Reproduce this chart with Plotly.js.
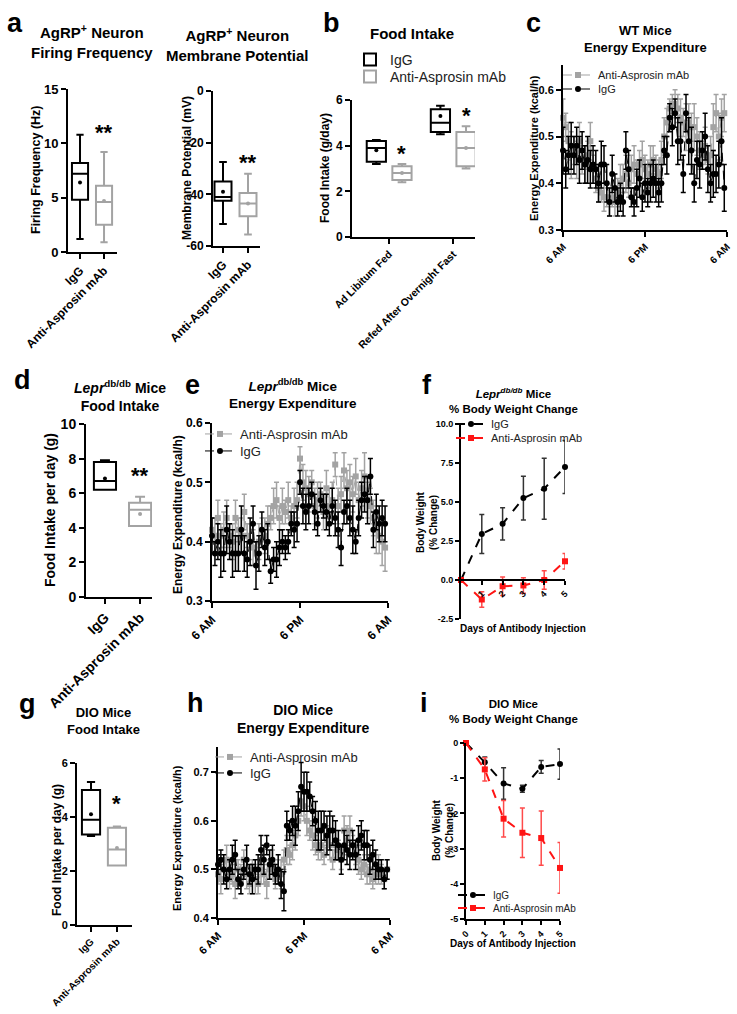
<!DOCTYPE html>
<html><head><meta charset="utf-8">
<script src="https://cdn.plot.ly/plotly-3.0.1.min.js"></script>
<style>html,body{margin:0;padding:0;background:#fff}</style>
</head><body><div id="chart" style="width:737px;height:1014px"></div>
<script>
// ---------------- DATA ----------------
const groups = ['IgG', 'Anti-Asprosin mAb'];
// a1 firing frequency (Hz)
const a1_lower = [1.2, 0.9], a1_q1 = [4.8, 2.5], a1_med = [7.2, 4.6], a1_q3 = [8.2, 6.1], a1_upper = [10.8, 9.2], a1_mean = [6.4, 4.7];
const a1_ticks = [0, 5, 10, 15];
// a2 membrane potential (mV)
const a2_lower = [-51.5, -55.5], a2_q1 = [-42.5, -48.5], a2_med = [-41, -43.5], a2_q3 = [-35, -39.5], a2_upper = [-27.5, -32], a2_mean = [-39, -43.5];
const a2_tickvals = [0, -20, -40, -60], a2_ticktext = ['0', '-20', '-40', '-60'];
// b food intake (g/day)
const b_conditions = ['Ad Libitum Fed', 'Refed After Overnight Fast'];
const b_igg_lower = [3.2, 4.5], b_igg_q1 = [3.3, 4.6], b_igg_med = [3.9, 5.0], b_igg_q3 = [4.2, 5.6], b_igg_upper = [4.25, 5.75], b_igg_mean = [3.8, 5.3];
const b_anti_lower = [2.4, 3.0], b_anti_q1 = [2.5, 3.1], b_anti_med = [2.8, 3.9], b_anti_q3 = [3.1, 4.6], b_anti_upper = [3.2, 4.85], b_anti_mean = [2.8, 3.9];
const b_ticks = [0, 2, 4, 6];
// time axis for energy expenditure
const timeHours = [0,0.4,0.8,1.2,1.6,2,2.4,2.8,3.2,3.6,4,4.4,4.8,5.2,5.6,6,6.4,6.8,7.2,7.6,8,8.4,8.8,9.2,9.6,10,10.4,10.8,11.2,11.6,12,12.4,12.8,13.2,13.6,14,14.4,14.8,15.2,15.6,16,16.4,16.8,17.2,17.6,18,18.4,18.8,19.2,19.6,20,20.4,20.8,21.2,21.6,22,22.4,22.8,23.2,23.6];
const timeTickVals = [0, 12, 24], timeTickText = ['6 AM', '6 PM', '6 AM'];
// c WT energy expenditure
const c_anti = [0.54,0.52,0.49,0.46,0.47,0.45,0.49,0.45,0.44,0.46,0.49,0.43,0.41,0.39,0.38,0.37,0.37,0.36,0.37,0.36,0.38,0.40,0.41,0.42,0.40,0.43,0.44,0.42,0.44,0.45,0.43,0.42,0.44,0.45,0.43,0.42,0.45,0.50,0.53,0.56,0.57,0.57,0.56,0.54,0.53,0.52,0.53,0.52,0.52,0.50,0.47,0.46,0.48,0.45,0.46,0.52,0.55,0.50,0.54,0.55];
const c_anti_err = [0.04,0.03,0.04,0.05,0.03,0.04,0.04,0.03,0.04,0.03,0.04,0.03,0.03,0.03,0.02,0.03,0.02,0.03,0.02,0.03,0.03,0.04,0.03,0.04,0.03,0.03,0.04,0.03,0.03,0.04,0.03,0.03,0.04,0.03,0.03,0.03,0.04,0.04,0.03,0.02,0.02,0.03,0.03,0.04,0.03,0.05,0.04,0.03,0.05,0.04,0.04,0.03,0.04,0.03,0.04,0.05,0.04,0.05,0.04,0.04];
const c_igg = [0.47,0.43,0.46,0.48,0.46,0.48,0.45,0.47,0.44,0.45,0.43,0.44,0.43,0.40,0.44,0.44,0.40,0.36,0.42,0.39,0.36,0.37,0.36,0.47,0.43,0.37,0.36,0.39,0.41,0.37,0.40,0.38,0.40,0.41,0.40,0.38,0.40,0.47,0.46,0.54,0.52,0.55,0.49,0.49,0.42,0.55,0.49,0.47,0.40,0.45,0.44,0.47,0.50,0.43,0.40,0.42,0.42,0.44,0.49,0.39];
const c_igg_err = [0.05,0.04,0.04,0.05,0.04,0.04,0.05,0.04,0.04,0.05,0.04,0.04,0.04,0.04,0.05,0.04,0.04,0.03,0.04,0.03,0.03,0.03,0.03,0.04,0.04,0.02,0.03,0.04,0.04,0.03,0.04,0.03,0.04,0.04,0.04,0.03,0.04,0.03,0.04,0.03,0.04,0.03,0.05,0.04,0.04,0.04,0.05,0.05,0.04,0.04,0.05,0.04,0.05,0.05,0.04,0.05,0.04,0.05,0.05,0.05];
const c_ticks = [0.3, 0.4, 0.5, 0.6];
// d Lepr db/db food intake
const d_lower = [6.2, 4.1], d_q1 = [6.2, 4.1], d_med = [6.7, 5.05], d_q3 = [7.8, 5.45], d_upper = [7.9, 5.8], d_mean = [6.85, 4.8];
const d_ticks = [0, 2, 4, 6, 8, 10];
// e Lepr db/db energy expenditure
const e_anti = [0.42,0.41,0.44,0.41,0.42,0.44,0.41,0.40,0.44,0.42,0.41,0.45,0.41,0.40,0.39,0.38,0.40,0.42,0.41,0.43,0.44,0.46,0.47,0.44,0.46,0.45,0.47,0.44,0.46,0.47,0.54,0.50,0.49,0.48,0.50,0.46,0.47,0.48,0.45,0.49,0.46,0.47,0.53,0.46,0.48,0.52,0.49,0.50,0.48,0.51,0.47,0.49,0.51,0.47,0.46,0.44,0.42,0.41,0.40,0.39];
const e_anti_err = [0.02,0.03,0.03,0.02,0.03,0.03,0.02,0.03,0.03,0.02,0.03,0.03,0.02,0.03,0.03,0.02,0.03,0.02,0.03,0.03,0.02,0.03,0.03,0.02,0.03,0.02,0.03,0.02,0.03,0.03,0.02,0.03,0.03,0.03,0.02,0.03,0.03,0.02,0.03,0.03,0.03,0.03,0.02,0.03,0.03,0.03,0.03,0.03,0.03,0.03,0.03,0.03,0.04,0.03,0.03,0.03,0.04,0.03,0.04,0.04];
const e_igg = [0.41,0.38,0.40,0.38,0.38,0.42,0.40,0.38,0.38,0.38,0.42,0.38,0.37,0.40,0.43,0.36,0.38,0.42,0.39,0.40,0.35,0.37,0.37,0.39,0.40,0.39,0.40,0.43,0.42,0.43,0.50,0.46,0.45,0.46,0.48,0.45,0.43,0.47,0.46,0.45,0.43,0.46,0.44,0.42,0.39,0.45,0.46,0.44,0.42,0.40,0.44,0.47,0.48,0.47,0.51,0.42,0.45,0.43,0.44,0.43];
const e_igg_err = [0.03,0.02,0.03,0.04,0.03,0.04,0.03,0.04,0.03,0.03,0.04,0.03,0.03,0.04,0.03,0.04,0.03,0.03,0.03,0.03,0.02,0.02,0.03,0.03,0.02,0.02,0.02,0.02,0.03,0.03,0.02,0.03,0.03,0.03,0.02,0.03,0.02,0.02,0.02,0.03,0.02,0.03,0.03,0.03,0.03,0.02,0.03,0.03,0.04,0.02,0.03,0.03,0.03,0.04,0.03,0.03,0.03,0.03,0.03,0.03];
const e_ticks = [0.3, 0.4, 0.5, 0.6];
// f Lepr db/db body weight change
const days = [0, 1, 2, 3, 4, 5];
const f_igg = [0, 2.95, 3.6, 5.25, 5.85, 7.25], f_igg_err = [0, 1.25, 1.03, 1.4, 1.95, 1.7];
const f_anti = [0, -1.25, -0.4, -0.35, 0, 1.2], f_anti_err = [0, 0.5, 0.6, 0.5, 0.6, 0.5];
const f_tickvals = [10, 7.5, 5, 2.5, 0, -2.5], f_ticktext = ['10.0', '7.5', '5.0', '2.5', '0.0', '-2.5'];
// g DIO food intake
const g_lower = [3.3, 2.2], g_q1 = [3.35, 2.2], g_med = [3.9, 2.8], g_q3 = [5.0, 3.6], g_upper = [5.3, 3.65], g_mean = [4.1, 2.85];
const g_ticks = [0, 2, 4, 6];
// h DIO energy expenditure
const h_anti = [0.49,0.48,0.50,0.52,0.48,0.49,0.47,0.50,0.48,0.52,0.49,0.47,0.50,0.48,0.47,0.50,0.49,0.47,0.50,0.51,0.48,0.50,0.49,0.52,0.54,0.53,0.55,0.57,0.60,0.64,0.63,0.60,0.58,0.57,0.55,0.54,0.55,0.53,0.56,0.55,0.52,0.55,0.54,0.52,0.58,0.56,0.58,0.55,0.53,0.52,0.50,0.51,0.49,0.50,0.48,0.49,0.50,0.49,0.48,0.50];
const h_anti_err = [0.02,0.03,0.02,0.03,0.02,0.02,0.03,0.02,0.03,0.02,0.03,0.02,0.02,0.03,0.02,0.03,0.02,0.03,0.02,0.03,0.02,0.02,0.03,0.02,0.03,0.02,0.03,0.03,0.03,0.03,0.03,0.03,0.02,0.03,0.02,0.02,0.03,0.02,0.03,0.03,0.02,0.03,0.02,0.02,0.03,0.03,0.03,0.02,0.02,0.03,0.02,0.02,0.02,0.03,0.02,0.02,0.03,0.02,0.02,0.02];
const h_igg = [0.51,0.52,0.50,0.48,0.50,0.52,0.53,0.48,0.47,0.50,0.52,0.49,0.48,0.50,0.50,0.54,0.52,0.55,0.51,0.52,0.49,0.50,0.47,0.455,0.59,0.58,0.60,0.59,0.62,0.67,0.66,0.66,0.65,0.62,0.60,0.58,0.58,0.59,0.57,0.58,0.58,0.56,0.55,0.52,0.55,0.54,0.53,0.55,0.53,0.56,0.57,0.55,0.55,0.52,0.53,0.51,0.50,0.50,0.48,0.50];
const h_igg_err = [0.02,0.02,0.03,0.02,0.02,0.03,0.03,0.02,0.02,0.02,0.03,0.02,0.03,0.02,0.03,0.03,0.03,0.02,0.03,0.03,0.02,0.03,0.03,0.04,0.03,0.02,0.03,0.04,0.04,0.05,0.04,0.04,0.03,0.03,0.04,0.04,0.04,0.03,0.04,0.04,0.03,0.04,0.03,0.03,0.03,0.03,0.03,0.03,0.03,0.03,0.03,0.03,0.03,0.03,0.03,0.03,0.02,0.02,0.02,0.02];
const h_ticks = [0.4, 0.5, 0.6, 0.7];
// i DIO body weight change
const i_igg = [0, -0.55, -1.15, -1.3, -0.68, -0.6], i_igg_err = [0, 0.15, 0.45, 0.1, 0.18, 0.43];
const i_anti = [0, -0.75, -2.15, -2.55, -2.7, -3.55], i_anti_err = [0, 0.33, 0.52, 0.7, 0.77, 0.72];
const i_tickvals = [0, -1, -2, -3, -4, -5], i_ticktext = ['0', '-1', '-2', '-3', '-4', '-5'];

// ---------------- STYLE / HELPERS ----------------
const W = 737, H = 1014;
const px = x => x / W, py = y => 1 - y / H;
const FONT = 'Liberation Sans, Arial, Helvetica, sans-serif';
const BLACK = '#000000', GRAY = '#a3a3a3', RED = '#ff1414';
const tf = (s, w) => ({family: FONT, size: s, color: '#000', weight: w || 'bold'});

function axis(extra) {
  return Object.assign({showline: true, linecolor: '#000', linewidth: 2, ticks: 'outside', ticklen: 5, tickwidth: 2,
    tickcolor: '#000', showgrid: false, zeroline: false, fixedrange: true, automargin: false, tickfont: tf(12)}, extra);
}
function catAxis(dom, anchor, cats, range, angle, size) {
  return axis({domain: dom, anchor, type: 'category', categoryorder: 'array', categoryarray: cats, range, tickangle: angle, tickfont: tf(size)});
}
function hiddenCatAxis(dom, anchor, cats, range) {
  return {domain: dom, anchor, type: 'category', categoryorder: 'array', categoryarray: cats, range, visible: false,
    showline: false, showticklabels: false, ticks: '', showgrid: false, zeroline: false, fixedrange: true, automargin: false};
}
function boxTrace(name, x, lo, q1, med, q3, up, color, xa, ya, width, legend) {
  return {type: 'box', name, x, lowerfence: lo, q1, median: med, q3, upperfence: up, xaxis: xa, yaxis: ya,
    line: {color, width: 2}, fillcolor: 'rgba(255,255,255,0)', whiskerwidth: 0.45, width, boxpoints: false,
    showlegend: !!legend, legend: legend || 'legend', hoverinfo: 'skip'};
}
function meanTrace(x, y, color, xa, ya) {
  return {type: 'scatter', mode: 'markers', x, y, xaxis: xa, yaxis: ya, marker: {color, size: 4}, showlegend: false, hoverinfo: 'skip'};
}
function seriesTrace(name, x, y, err, color, symbol, size, xa, ya, legend, lw, errColor) {
  return {type: 'scatter', mode: 'lines+markers', name, x, y, xaxis: xa, yaxis: ya, cliponaxis: false,
    line: {color, width: lw, dash: 'dash'}, marker: {color, symbol, size},
    error_y: {type: 'data', array: err, visible: true, color: errColor || color, thickness: 1.5, width: 2.5},
    legend, showlegend: true, hoverinfo: 'skip'};
}
function leg(x, y, size) {
  return {x: px(x), y: py(y), xanchor: 'left', yanchor: 'middle', bgcolor: 'rgba(0,0,0,0)', borderwidth: 0,
    font: {family: FONT, size, color: '#222'}, itemwidth: 30, tracegroupgap: 0};
}
function ann(text, x, y, size, extra) {
  return Object.assign({text, x: px(x), y: py(y), xref: 'paper', yref: 'paper', showarrow: false, xanchor: 'center',
    yanchor: 'middle', font: tf(size)}, extra || {});
}
function vlabel(text, x, y, size) { return ann(text, x, y, size, {textangle: -90}); }
function star(text, x, y, xref, yref, size) {
  return {text, x, y, xref, yref, showarrow: false, xanchor: 'center', yanchor: 'middle', font: tf(size)};
}

// ---------------- TRACES ----------------
const traces = [
  // a1
  boxTrace('IgG', [groups[0]], [a1_lower[0]], [a1_q1[0]], [a1_med[0]], [a1_q3[0]], [a1_upper[0]], BLACK, 'x', 'y', 0.67),
  boxTrace('Anti', [groups[1]], [a1_lower[1]], [a1_q1[1]], [a1_med[1]], [a1_q3[1]], [a1_upper[1]], GRAY, 'x', 'y', 0.67),
  meanTrace([groups[0]], [a1_mean[0]], BLACK, 'x', 'y'), meanTrace([groups[1]], [a1_mean[1]], GRAY, 'x', 'y'),
  // a2
  boxTrace('IgG', [groups[0]], [a2_lower[0]], [a2_q1[0]], [a2_med[0]], [a2_q3[0]], [a2_upper[0]], BLACK, 'x2', 'y2', 0.68),
  boxTrace('Anti', [groups[1]], [a2_lower[1]], [a2_q1[1]], [a2_med[1]], [a2_q3[1]], [a2_upper[1]], GRAY, 'x2', 'y2', 0.68),
  meanTrace([groups[0]], [a2_mean[0]], BLACK, 'x2', 'y2'), meanTrace([groups[1]], [a2_mean[1]], GRAY, 'x2', 'y2'),
  // b : an invisible helper registers the visible x3/y3 subplot (axes + condition labels)
  {type: 'scatter', mode: 'markers', x: [0, 1], y: [0, 0], xaxis: 'x3', yaxis: 'y3', marker: {opacity: 0, size: 1}, showlegend: false, hoverinfo: 'skip'},
  // b boxes: IgG and anti on two hidden category axes sharing the domain, shifted for side-by-side boxes
  boxTrace('IgG', b_conditions, b_igg_lower, b_igg_q1, b_igg_med, b_igg_q3, b_igg_upper, BLACK, 'x4', 'y3', 0.3, 'legend'),
  boxTrace('Anti-Asprosin mAb', b_conditions, b_anti_lower, b_anti_q1, b_anti_med, b_anti_q3, b_anti_upper, GRAY, 'x5', 'y3', 0.3, 'legend2'),
  meanTrace(b_conditions, b_igg_mean, BLACK, 'x4', 'y3'), meanTrace(b_conditions, b_anti_mean, GRAY, 'x5', 'y3'),
  // c
  seriesTrace('Anti-Asprosin mAb', timeHours, c_anti, c_anti_err, GRAY, 'square', 6, 'x6', 'y6', 'legend3', 1),
  seriesTrace('IgG', timeHours, c_igg, c_igg_err, BLACK, 'circle', 6, 'x6', 'y6', 'legend4', 1),
  // d
  boxTrace('IgG', [groups[0]], [d_lower[0]], [d_q1[0]], [d_med[0]], [d_q3[0]], [d_upper[0]], BLACK, 'x7', 'y7', 0.63),
  boxTrace('Anti', [groups[1]], [d_lower[1]], [d_q1[1]], [d_med[1]], [d_q3[1]], [d_upper[1]], GRAY, 'x7', 'y7', 0.63),
  meanTrace([groups[0]], [d_mean[0]], BLACK, 'x7', 'y7'), meanTrace([groups[1]], [d_mean[1]], GRAY, 'x7', 'y7'),
  // e
  seriesTrace('Anti-Asprosin mAb', timeHours, e_anti, e_anti_err, GRAY, 'square', 6, 'x8', 'y8', 'legend5', 1),
  seriesTrace('IgG', timeHours, e_igg, e_igg_err, BLACK, 'circle', 6, 'x8', 'y8', 'legend6', 1),
  // f
  seriesTrace('IgG', days, f_igg, f_igg_err, BLACK, 'circle', 6, 'x9', 'y9', 'legend7', 2, '#333'),
  seriesTrace('Anti-Asprosin mAb', days, f_anti, f_anti_err, RED, 'square', 6, 'x9', 'y9', 'legend8', 2, '#ff4a4a'),
  // g
  boxTrace('IgG', [groups[0]], [g_lower[0]], [g_q1[0]], [g_med[0]], [g_q3[0]], [g_upper[0]], BLACK, 'x10', 'y10', 0.7),
  boxTrace('Anti', [groups[1]], [g_lower[1]], [g_q1[1]], [g_med[1]], [g_q3[1]], [g_upper[1]], GRAY, 'x10', 'y10', 0.7),
  meanTrace([groups[0]], [g_mean[0]], BLACK, 'x10', 'y10'), meanTrace([groups[1]], [g_mean[1]], GRAY, 'x10', 'y10'),
  // h
  seriesTrace('Anti-Asprosin mAb', timeHours, h_anti, h_anti_err, GRAY, 'square', 6, 'x11', 'y11', 'legend9', 1),
  seriesTrace('IgG', timeHours, h_igg, h_igg_err, BLACK, 'circle', 6, 'x11', 'y11', 'legend10', 1),
  // i
  seriesTrace('IgG', days, i_igg, i_igg_err, BLACK, 'circle', 6, 'x12', 'y12', 'legend11', 2, '#333'),
  seriesTrace('Anti-Asprosin mAb', days, i_anti, i_anti_err, RED, 'square', 6, 'x12', 'y12', 'legend12', 2, '#ff4a4a'),
];

// ---------------- LAYOUT ----------------
const fZeroY = 580; // pixel row of y=0 in panel f (axis drawn there)
const bDom = [px(352), px(475)];
const layout = {
  width: W, height: H, margin: {l: 0, r: 0, t: 0, b: 0}, paper_bgcolor: '#fff', plot_bgcolor: 'rgba(0,0,0,0)',
  showlegend: true, boxmode: 'overlay', font: {family: FONT, color: '#000'},
  // a1
  xaxis: catAxis([px(68), px(117)], 'y', groups, [-0.5, 1.54], -45, 12),
  yaxis: axis({domain: [py(252), py(89)], anchor: 'x', range: [0, 15], tickvals: a1_ticks, tickfont: tf(13)}),
  // a2
  xaxis2: catAxis([px(213), px(260)], 'y2', groups, [-0.4, 1.48], -45, 12),
  yaxis2: axis({domain: [py(246), py(91)], anchor: 'x2', range: [-60, 0], tickvals: a2_tickvals, ticktext: a2_ticktext, tickfont: tf(12)}),
  // b : visible axis carries the condition labels at category positions 0 and 1
  xaxis3: axis({domain: bDom, anchor: 'y3', range: [-0.58, 1.34], tickvals: [0, 1], ticktext: b_conditions, tickangle: -45, tickfont: tf(10.5)}),
  xaxis4: hiddenCatAxis(bDom, 'y3', b_conditions, [-0.38, 1.54]),
  xaxis5: hiddenCatAxis(bDom, 'y3', b_conditions, [-0.78, 1.14]),
  yaxis3: axis({domain: [py(237), py(100)], anchor: 'x3', range: [0, 6], tickvals: b_ticks, tickfont: tf(12)}),
  // c
  xaxis6: axis({domain: [px(563), px(727)], anchor: 'y6', range: [0, 24], tickvals: timeTickVals, ticktext: timeTickText, tickangle: -45, tickfont: tf(10)}),
  yaxis6: axis({domain: [py(230), py(65)], anchor: 'x6', range: [0.3, 0.653], tickvals: c_ticks, ticktext: ['0.3', '0.4', '0.5', '0.6'], tickfont: tf(11)}),
  // d
  xaxis7: catAxis([px(86), px(152)], 'y7', groups, [-0.54, 1.34], -45, 14),
  yaxis7: axis({domain: [py(597), py(424)], anchor: 'x7', range: [0, 10], tickvals: d_ticks, tickfont: tf(14)}),
  // e
  xaxis8: axis({domain: [px(212), px(388)], anchor: 'y8', range: [0, 24], tickvals: timeTickVals, ticktext: timeTickText, tickangle: -45, tickfont: tf(12)}),
  yaxis8: axis({domain: [py(601), py(423)], anchor: 'x8', range: [0.3, 0.6], tickvals: e_ticks, ticktext: ['0.3', '0.4', '0.5', '0.6'], tickfont: tf(12)}),
  // f
  xaxis9: axis({domain: [px(461), px(565)], anchor: 'free', position: py(fZeroY), range: [0, 5], tickvals: [1, 2, 3, 4, 5], tickangle: -45, tickfont: tf(9), ticklen: 4}),
  yaxis9: axis({domain: [py(619), py(424)], anchor: 'x9', range: [-2.5, 10], tickvals: f_tickvals, ticktext: f_ticktext, tickfont: tf(9), ticklen: 4}),
  // g
  xaxis10: catAxis([px(77), px(132)], 'y10', groups, [-0.54, 1.58], -45, 10),
  yaxis10: axis({domain: [py(925), py(763)], anchor: 'x10', range: [0, 6], tickvals: g_ticks, tickfont: tf(11)}),
  // h
  xaxis11: axis({domain: [px(218), px(390)], anchor: 'y11', range: [0, 24], tickvals: timeTickVals, ticktext: timeTickText, tickangle: -45, tickfont: tf(11)}),
  yaxis11: axis({domain: [py(918), py(747)], anchor: 'x11', range: [0.4, 0.752], tickvals: h_ticks, ticktext: ['0.4', '0.5', '0.6', '0.7'], tickfont: tf(11)}),
  // i
  xaxis12: axis({domain: [px(466), px(560)], anchor: 'y12', range: [0, 5], tickvals: days, tickangle: -45, tickfont: tf(9), ticklen: 4}),
  yaxis12: axis({domain: [py(919), py(743)], anchor: 'x12', range: [-5, 0], tickvals: i_tickvals, ticktext: i_ticktext, tickfont: tf(9), ticklen: 4}),
  // legends
  legend: leg(350, 60, 14), legend2: leg(350, 77, 14),
  legend3: leg(558, 75, 11), legend4: leg(558, 89, 11),
  legend5: leg(200, 434, 13), legend6: leg(200, 451, 13),
  legend7: leg(451, 424, 11), legend8: leg(451, 438, 11),
  legend9: leg(210, 757, 13), legend10: leg(210, 773, 13),
  legend11: leg(453, 895, 10), legend12: leg(453, 908, 10),
  annotations: [
    // panel letters
    ann('a', 15, 23, 27), ann('b', 331, 23, 27), ann('c', 533, 23, 27),
    ann('d', 22, 380, 27), ann('e', 193, 385, 27), ann('f', 427, 385, 27),
    ann('g', 27, 704, 27), ann('h', 195, 703, 27), ann('i', 424, 703, 27),
    // panel titles
    ann('AgRP<sup>+</sup> Neuron<br>Firing Frequency', 92, 42, 15),
    ann('AgRP<sup>+</sup> Neuron<br>Membrane Potential', 238, 44, 15),
    ann('Food Intake', 412, 33, 15),
    ann('WT Mice<br>Energy Expenditure', 645, 39, 13),
    ann('<i>Lepr</i><sup>db/db</sup> Mice<br>Food Intake', 120, 396, 14),
    ann('<i>Lepr</i><sup>db/db</sup> Mice<br>Energy Expenditure', 293, 393, 13.5),
    ann('<i>Lepr<sup>db/db</sup></i> Mice<br>% Body Weight Change', 513, 400, 11.5),
    ann('DIO Mice<br>Food Intake', 103, 721, 13),
    ann('DIO Mice<br>Energy Expenditure', 303, 719, 14),
    ann('DIO Mice<br>% Body Weight Change', 513, 711, 11.5),
    // axis titles
    vlabel('Firing Frequency (Hz)', 36, 170, 12.5),
    vlabel('Membrane Potential (mV)', 187, 168, 12),
    vlabel('Food Intake (g/day)', 325, 168, 12),
    vlabel('Energy Expenditure (kcal/h)', 534, 148, 11),
    vlabel('Food Intake per day (g)', 50, 510, 14),
    vlabel('Energy Expenditure (kcal/h)', 178, 515, 12),
    vlabel('Body Weight<br>(% Change)', 427, 522, 10),
    vlabel('Food Intake per day (g)', 57, 850, 12),
    vlabel('Energy Expenditure (kcal/h)', 177, 838, 11),
    vlabel('Body Weight<br>(% Change)', 443, 830, 10),
    ann('Days of Antibody Injection', 523, 628, 10),
    ann('Days of Antibody Injection', 513, 943, 10),
    // significance marks
    star('**', groups[1], 11.0, 'x', 'y', 22),
    star('**', groups[1], -27.5, 'x2', 'y2', 22),
    star('*', b_conditions[0], 3.65, 'x5', 'y3', 22),
    star('*', b_conditions[1], 5.3, 'x5', 'y3', 22),
    star('**', groups[1], 7.0, 'x7', 'y7', 22),
    star('*', groups[1], 4.5, 'x10', 'y10', 22),
  ]
};

Plotly.newPlot('chart', traces, layout, {staticPlot: true, displayModeBar: false});
</script></body></html>
